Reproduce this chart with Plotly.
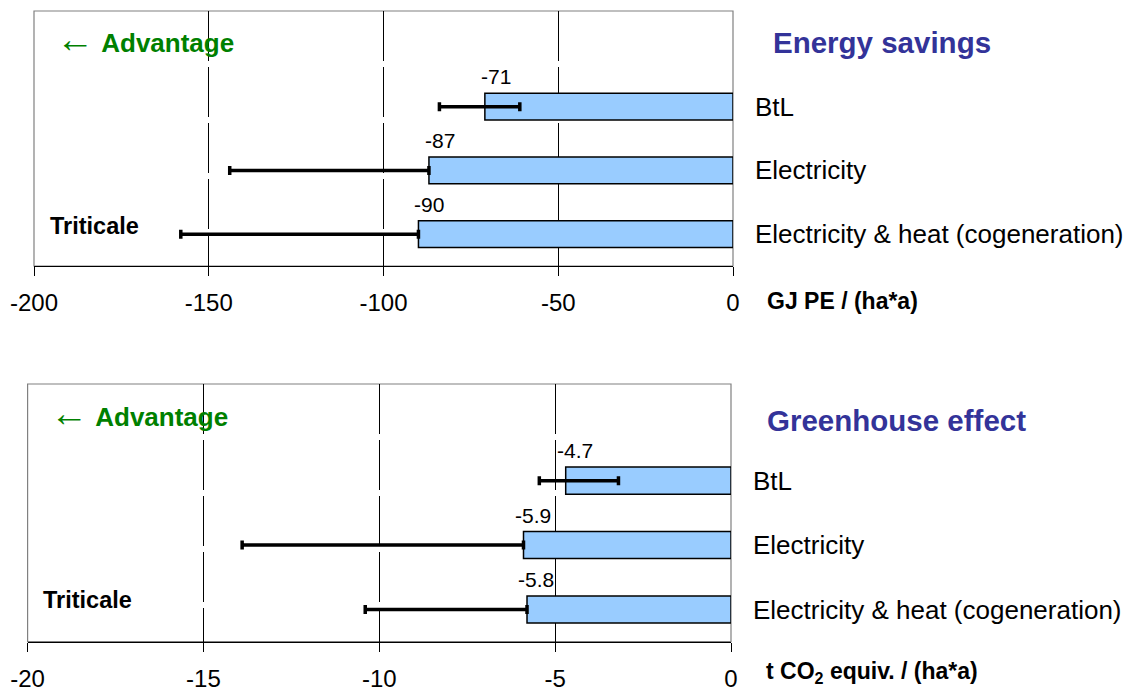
import plotly.graph_objects as go
from plotly.subplots import make_subplots

# datos
categorias = ["BtL", "Electricity", "Electricity & heat (cogeneration)"]

energia = [-71, -87, -90]
energia_err_menos = [13, 57, 68]
energia_err_mas = [10, 0, 0]

gei = [-4.7, -5.9, -5.8]
gei_err_menos = [0.75, 8.0, 4.6]
gei_err_mas = [1.5, 0, 0]

ticks_energia = [-200, -150, -100, -50, 0]
ticks_gei = [-20, -15, -10, -5, 0]

FONT = "Liberation Sans, Arial, sans-serif"
AZUL = "#99CCFF"
OFF = 8  # margen del body de la pagina
W, H = 1131 - OFF, 690 - OFF


def px_x(p):
    return (p - OFF) / W


def px_y(p):
    return 1 - (p - OFF) / H


fig = make_subplots(rows=2, cols=1)

posiciones = list(range(len(categorias)))

for fila, valores, emenos, emas in [(1, energia, energia_err_menos, energia_err_mas),
                                    (2, gei, gei_err_menos, gei_err_mas)]:
    fig.add_trace(go.Bar(
        y=posiciones,
        x=valores,
        orientation='h',
        width=0.42,
        marker=dict(color=AZUL, line=dict(color='black', width=1.5)),
        error_x=dict(type='data', symmetric=False, array=emas, arrayminus=emenos,
                     color='black', thickness=3.5, width=4.5),
        showlegend=False,
        hoverinfo='x+y',
    ), row=fila, col=1)

    # etiquetas de valor sobre las barras
    for i, v in enumerate(valores):
        fig.add_annotation(
            x=v, y=i, xref='x' if fila == 1 else 'x2', yref='y' if fila == 1 else 'y2',
            text=f"{v:g}", showarrow=False, xanchor='center', yanchor='middle',
            xshift=11 if fila == 1 else 9, yshift=30,
            font=dict(family=FONT, size=21, color='black'),
        )

eje_x = dict(
    showgrid=True, gridcolor='black', gridwidth=1, griddash='50px,6px',
    showline=True, linecolor='black', linewidth=1.2,
    ticks='outside', ticklen=9, tickcolor='black', tickwidth=1,
    tickfont=dict(family=FONT, size=24, color='black'),
    ticklabelstandoff=6, zeroline=False, automargin=False,
)
eje_y = dict(
    side='right', range=[2.5, -1.5], tickvals=posiciones, ticktext=categorias,
    showgrid=False, showline=False, zeroline=False, ticks='',
    tickfont=dict(family=FONT, size=26, color='black'),
    ticklabelstandoff=21, automargin=False,
)

fig.update_layout(
    xaxis=dict(eje_x, domain=[px_x(34), px_x(733)], range=[-200, 0], tickvals=ticks_energia,
               ticktext=[str(t) for t in ticks_energia]),
    xaxis2=dict(eje_x, domain=[px_x(27.6), px_x(731)], range=[-20, 0], tickvals=ticks_gei,
                ticktext=[str(t) for t in ticks_gei]),
    yaxis=dict(eje_y, domain=[px_y(266), px_y(11)]),
    yaxis2=dict(eje_y, domain=[px_y(641.7), px_y(384)]),
    width=W, height=H,
    margin=dict(l=0, r=0, t=0, b=0, autoexpand=False),
    plot_bgcolor='white', paper_bgcolor='white',
    bargap=0.5,
)

# marco del area de trazado
for xr, yr in [('x domain', 'y domain'), ('x2 domain', 'y2 domain')]:
    fig.add_shape(type='rect', xref=xr, yref=yr, x0=0, x1=1, y0=0, y1=1,
                  line=dict(color='#808080', width=1.2), layer='below')

flecha = '<span style="font-size:38px">←</span>&nbsp;'
textos = [
    # texto, x_px, y_px, tamano, color
    (flecha + "<b>Advantage</b>", 54, 39, 26, '#008000'),
    ("<b>Energy savings</b>", 771, 43, 29.5, '#333399'),
    ("<b>Triticale</b>", 48, 226, 23.5, 'black'),
    ("<b>GJ PE / (ha*a)</b>", 765, 301, 23, 'black'),
    (flecha + "<b>Advantage</b>", 48, 413, 26, '#008000'),
    ("<b>Greenhouse effect</b>", 765, 420, 29.5, '#333399'),
    ("<b>Triticale</b>", 41, 600, 23.5, 'black'),
    ("<b>t CO<sub>2</sub> equiv. / (ha*a)</b>", 764, 672, 23, 'black'),
]
for txt, xp, yp, tam, col in textos:
    fig.add_annotation(
        x=px_x(xp), y=px_y(yp), xref='paper', yref='paper',
        text=txt, showarrow=False, xanchor='left', yanchor='middle',
        font=dict(family=FONT, size=tam, color=col),
    )

fig.write_html("out.html")
